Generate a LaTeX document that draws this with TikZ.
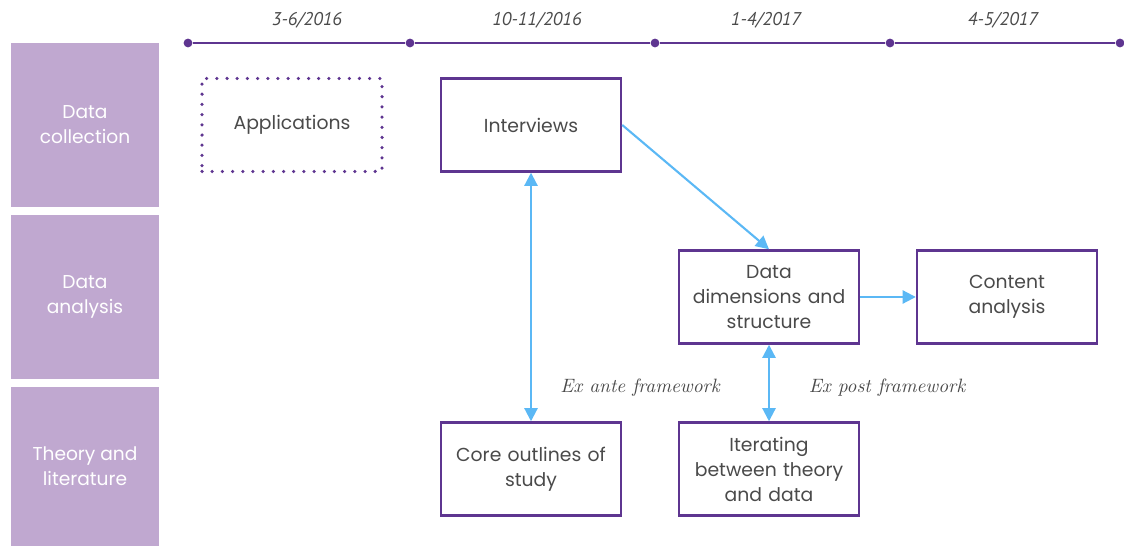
\documentclass[tikz,border=0pt]{standalone}
\usepackage{fontspec}
\setmainfont{Poppins}
\newfontfamily\datefont{PT Sans}
\newfontfamily\notefont{Latin Modern Roman}
\usetikzlibrary{arrows.meta}
\definecolor{lane}{HTML}{C0A8D0}
\definecolor{plum}{HTML}{5E3590}
\definecolor{sky}{HTML}{5BB8F5}
\definecolor{ink}{HTML}{4A4A4A}
\tikzset{
  lanebox/.style={fill=lane, draw=none, text=white, font=\fontsize{10.6}{14.2}\selectfont, align=center},
  stagebox/.style={draw=plum, line width=1.4pt, text=ink, minimum width=180*0.02cm, minimum height=93*0.02cm,
    inner sep=0pt, align=center, font=\fontsize{10.7}{14.2}\selectfont, text width=170*0.02cm},
  planbox/.style={stagebox, line width=2pt, line cap=round, dash pattern=on 0pt off 5.8pt},
  flow/.style={draw=sky, line width=1.2pt, -{Triangle[length=7.5pt,width=7.5pt]}},
  twoway/.style={draw=sky, line width=1.2pt, {Triangle[length=7.5pt,width=7.5pt]}-{Triangle[length=7.5pt,width=7.5pt]}},
  tick/.style={circle, fill=plum, inner sep=0pt, minimum size=5pt},
  datelabel/.style={text=ink, font=\datefont\itshape\fontsize{10.5}{12}\selectfont},
  notelabel/.style={text=ink, font=\notefont\itshape\fontsize{11}{12}\selectfont}
}
\begin{document}
\begin{tikzpicture}[x=0.02cm, y=-0.02cm]
\useasboundingbox (0,0) rectangle (1124,546);
% swimlane headers
\node[lanebox, minimum width=148*0.02cm, minimum height=164*0.02cm] (lc) at (85,125) {Data\\collection};
\node[lanebox, minimum width=148*0.02cm, minimum height=164*0.02cm] (la) at (85,297) {Data\\analysis};
\node[lanebox, minimum width=148*0.02cm, minimum height=159*0.02cm] (lt) at (85,466.5) {Theory and\\literature};
% timeline
\node[tick] (t0) at (188,43) {};
\node[tick] (t1) at (410,43) {};
\node[tick] (t2) at (655,43) {};
\node[tick] (t3) at (890,43) {};
\node[tick] (t4) at (1120,43) {};
\draw[plum, line width=1.2pt] (t0) -- (t1) -- (t2) -- (t3) -- (t4);
\node[datelabel] (d0) at (307,20) {3-6/2016};
\node[datelabel] (d1) at (537,20) {10-11/2016};
\node[datelabel] (d2) at (766,20) {1-4/2017};
\node[datelabel] (d3) at (1003,20) {4-5/2017};
% stages
\node[planbox] (app) at (292,125) {Applications};
\node[stagebox] (int) at (531,125) {Interviews};
\node[stagebox] (dim) at (769,297) {Data\\dimensions and\\structure};
\node[stagebox] (con) at (1007,297) {Content\\analysis};
\node[stagebox] (core) at (531,469) {Core outlines of\\study};
\node[stagebox] (iter) at (769,469) {Iterating\\between theory\\and data};
% connectors
\draw[flow] (int.east) -- (dim.north);
\draw[flow] (dim.east) -- (con.west);
\draw[twoway] (int.south) -- (core.north);
\draw[twoway] (dim.south) -- (iter.north);
\node[notelabel] (ante) at (640,388) {Ex ante framework};
\node[notelabel] (post) at (887,388) {Ex post framework};
\end{tikzpicture}
\end{document}
